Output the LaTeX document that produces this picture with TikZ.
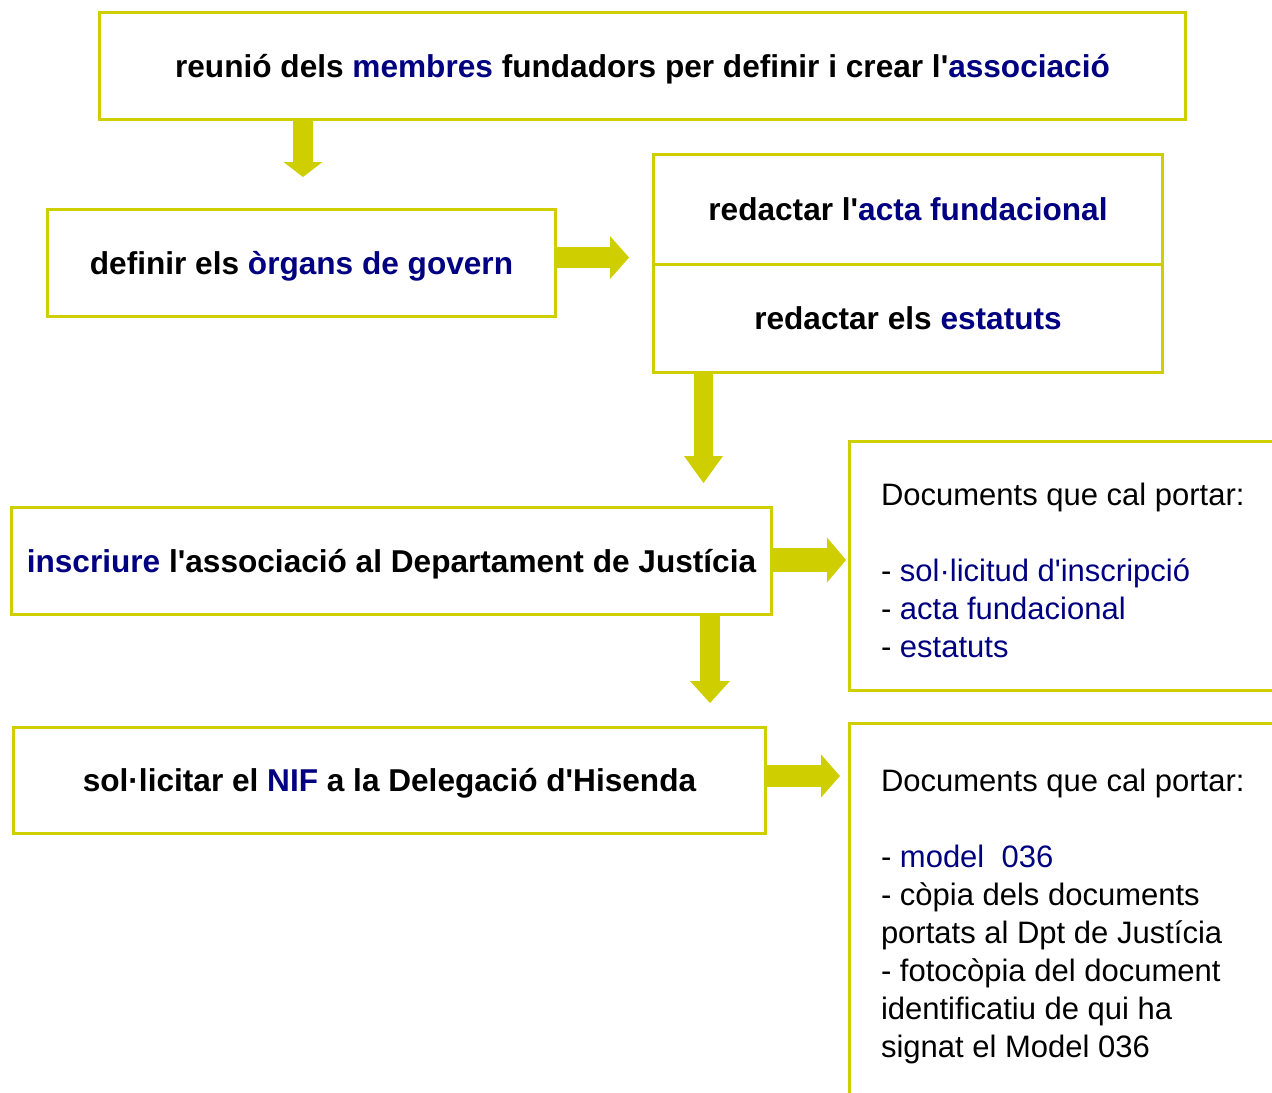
\documentclass[tikz,border=0pt]{standalone}
\usepackage{fontspec}
\setmainfont{Liberation Sans}[Ligatures=TeXOff]
\usetikzlibrary{arrows.meta}
\definecolor{ygreen}{RGB}{206,206,0}
\definecolor{navyb}{RGB}{0,0,128}
\tikzset{
  box/.style n args={2}{draw=ygreen, line width=2.25pt, inner sep=0pt, outer sep=0pt,
    minimum width=#1, minimum height=#2, font=\fontsize{23.7pt}{28.5pt}\selectfont\bfseries,
    text height=16.95pt, text depth=0pt, align=center},
  openbox/.style n args={2}{draw=ygreen, line width=2.25pt, inner sep=0pt, outer sep=0pt,
    minimum width=#1, minimum height=#2},
  doctext/.style={anchor=north west, inner sep=0pt, outer sep=0pt, align=left,
    font=\fontsize{23.25pt}{28.5pt}\selectfont},
  blockarrow/.style n args={3}{draw=ygreen, line width=#1,
    -{Triangle[width=#2,length=#3,line width=0pt]}},
}
\newcommand{\bl}[1]{\textcolor{navyb}{#1}}
\begin{document}
\begin{tikzpicture}[x=0.75pt,y=-0.75pt]
\useasboundingbox (0,0) rectangle (1272,1093);
\fill[white] (0,0) rectangle (1272,1093);
\clip (0,0) rectangle (1272,1093);

% boxes
\node[box={814.5pt}{80.25pt}] (b1) at (642.5,66) {reunió dels \bl{membres} fundadors per definir i crear l'\bl{associació}};
\node[box={381pt}{80.25pt}] (b2) at (301.5,263) {definir els \bl{òrgans de govern}};
\node[box={381.75pt}{82.5pt}] (b3a) at (908,209.5) {redactar l'\bl{acta fundacional}};
\node[box={381.75pt}{81pt}] (b3b) at (908,318.5) {redactar els \bl{estatuts}};
\node[box={570pt}{80.25pt}] (b4) at (391.5,561) {\bl{inscriure} l'associació al Departament de Justícia};
\node[box={564pt}{79.5pt}] (b5) at (389.5,780.5) {sol·licitar el \bl{NIF} a la Delegació d'Hisenda};
\node[openbox={330.375pt}{186.75pt}] (b6) at (1069.75,566) {};
\node[openbox={330.375pt}{289.875pt}] (b7) at (1069.75,916.75) {};

% document lists
\node[doctext] (d6) at (881,482.8) {Documents que cal portar:\\[28.5pt]
- \bl{sol·licitud d'inscripció}\\
- \bl{acta fundacional}\\
- \bl{estatuts}};
\node[doctext] (d7) at (881,768.8) {Documents que cal portar:\\[28.5pt]
- \bl{model\ \ 036}\\
- còpia dels documents\\
portats al Dpt de Justícia\\
- fotocòpia del document\\
identificatiu de qui ha\\
signat el Model 036};

% arrows
\coordinate (t1) at (303,177);
\coordinate (t2) at (629,257.5);
\coordinate (t3) at (703.5,483);
\coordinate (t4) at (846,560);
\coordinate (t5) at (710,703);
\coordinate (t6) at (840,776);
\draw[blockarrow={15pt}{29.25pt}{11.25pt}] (b1.south -| t1) -- (t1);
\draw[blockarrow={15.75pt}{32.25pt}{14.25pt}] (b2.east |- t2) -- (t2);
\draw[blockarrow={14.25pt}{29.25pt}{20.25pt}] (b3b.south -| t3) -- (t3);
\draw[blockarrow={18pt}{33.75pt}{14.25pt}] (b4.east |- t4) -- (t4);
\draw[blockarrow={15pt}{30pt}{16.5pt}] (b4.south -| t5) -- (t5);
\draw[blockarrow={16.5pt}{32.25pt}{14.25pt}] (b5.east |- t6) -- (t6);
\end{tikzpicture}
\end{document}
